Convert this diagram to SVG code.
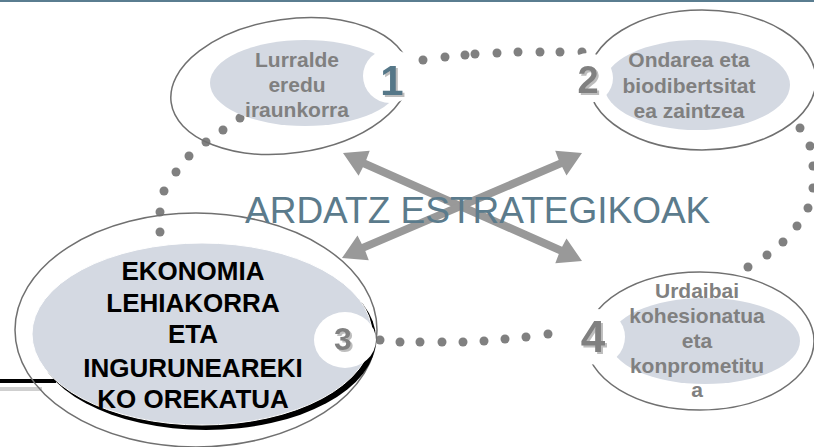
<svg xmlns="http://www.w3.org/2000/svg" width="814" height="447" viewBox="0 0 814 447">
<style>
.outer{fill:none;stroke:#707070;stroke-width:1.5}
.fill{fill:#d4d9e2}
.hole{fill:#ffffff}
.lbl{font-family:"Liberation Sans",Arial,sans-serif;font-weight:bold;font-size:21px;fill:#808080;text-anchor:middle}
.lbl3{font-family:"Liberation Sans",Arial,sans-serif;font-weight:bold;font-size:26px;fill:#000000;text-anchor:middle}
.num{font-family:"Liberation Sans",Arial,sans-serif;font-weight:bold;text-anchor:middle;fill:#808080;filter:url(#sh)}
.dots use{fill:#808080}
.arrow{fill:#999999}
.title{font-family:"Liberation Sans",Arial,sans-serif;font-size:37px;fill:#5b7b8c}
</style>
<defs>
<circle id="d" r="4.5"/>
<filter id="sh" x="-20%" y="-20%" width="150%" height="150%">
<feDropShadow dx="2" dy="2" stdDeviation="0.4" flood-color="#bdbdbd" flood-opacity="1"/>
</filter>
</defs>
<rect x="0" y="0" width="814" height="2" fill="#5a7d90"/>
<g id="deco">
<rect x="0" y="379" width="56" height="4" fill="#000"/>
<rect x="0" y="387" width="42" height="4" fill="#cfcfcf"/>
</g>
<g id="connectors">
<g class="dots">
<use href="#d" x="423" y="60"/><use href="#d" x="445" y="57"/><use href="#d" x="465" y="55"/><use href="#d" x="475" y="54"/><use href="#d" x="497" y="53"/><use href="#d" x="518" y="52"/><use href="#d" x="540" y="52"/><use href="#d" x="560" y="52"/><use href="#d" x="582" y="52"/>
<use href="#d" x="800" y="128"/><use href="#d" x="810" y="146"/><use href="#d" x="813" y="166"/><use href="#d" x="813" y="188"/><use href="#d" x="808" y="208"/><use href="#d" x="797" y="226"/><use href="#d" x="783" y="242"/><use href="#d" x="767" y="255"/><use href="#d" x="748" y="267"/>
<use href="#d" x="380" y="340"/><use href="#d" x="400" y="342"/><use href="#d" x="420" y="342"/><use href="#d" x="442" y="342"/><use href="#d" x="463" y="342"/><use href="#d" x="484" y="341"/><use href="#d" x="505" y="339"/><use href="#d" x="526" y="337"/><use href="#d" x="548" y="334"/>
<use href="#d" x="240" y="118"/><use href="#d" x="223" y="130"/><use href="#d" x="206" y="142"/><use href="#d" x="189" y="156"/><use href="#d" x="176" y="172"/><use href="#d" x="164" y="191"/><use href="#d" x="160" y="212"/><use href="#d" x="160" y="232"/>
</g>
</g>
<g id="node1">
<ellipse class="outer" cx="290" cy="86" rx="120" ry="67" transform="rotate(-8 290 86)"/>
<ellipse class="fill" cx="305" cy="83" rx="95" ry="43"/>
<circle class="hole" cx="390" cy="76" r="27"/>
<text class="lbl" x="297" y="67">Lurralde</text>
<text class="lbl" x="297" y="92">eredu</text>
<text class="lbl" x="297" y="117">iraunkorra</text>
<text class="num" x="392" y="95" font-size="42" style="fill:#557788">1</text>
</g>
<g id="node2">
<ellipse class="outer" cx="702" cy="80" rx="114" ry="70"/>
<ellipse class="fill" cx="697" cy="85" rx="93" ry="45"/>
<circle class="hole" cx="588" cy="78" r="25"/>
<text class="lbl" x="689" y="67">Ondarea eta</text>
<text class="lbl" x="689" y="93">biodibertsitat</text>
<text class="lbl" x="689" y="118">ea zaintzea</text>
<text class="num" x="588" y="93" font-size="38">2</text>
</g>
<g id="node4">
<ellipse class="outer" cx="700" cy="341" rx="114" ry="69"/>
<ellipse class="fill" cx="705" cy="341" rx="95" ry="43"/>
<circle class="hole" cx="597" cy="337" r="28"/>
<text class="lbl" x="697" y="298">Urdaibai</text>
<text class="lbl" x="697" y="323">kohesionatua</text>
<text class="lbl" x="697" y="348">eta</text>
<text class="lbl" x="697" y="373">konprometitu</text>
<text class="lbl" x="697" y="397">a</text>
<text class="num" x="593" y="352" font-size="44">4</text>
</g>
<g id="node3">
<ellipse class="outer" cx="196" cy="330" rx="181" ry="117"/>
<ellipse cx="206" cy="339" rx="170" ry="91" fill="#000"/>
<ellipse class="fill" cx="202" cy="334" rx="170" ry="91" stroke="#fff" stroke-width="1"/>
<ellipse class="hole" cx="345" cy="340" rx="31" ry="28"/>
<text class="lbl3" x="193" y="280">EKONOMIA</text>
<text class="lbl3" x="193" y="312">LEHIAKORRA</text>
<text class="lbl3" x="193" y="343">ETA</text>
<text class="lbl3" x="193" y="377">INGURUNEAREKI</text>
<text class="lbl3" x="193" y="408">KO OREKATUA</text>
<text class="num" x="343" y="350" font-size="32">3</text>
</g>
<g id="arrows">
<polygon class="arrow" points="343,153 358.6,175.7 362.9,167.2 558.8,254.1 555.3,263.2 582,261 566.5,238.4 562.1,246.8 366.2,159.9 369.7,150.8"/>
<polygon class="arrow" points="582,153 566.5,175.5 562.2,167.1 365.3,251.1 368.8,260.2 342,258 357.5,235.5 361.8,243.9 558.7,159.9 555.2,150.8"/>
</g>
<g id="title">
<text class="title" x="245" y="223">ARDATZ ESTRATEGIKOAK</text>
</g>
</svg>
